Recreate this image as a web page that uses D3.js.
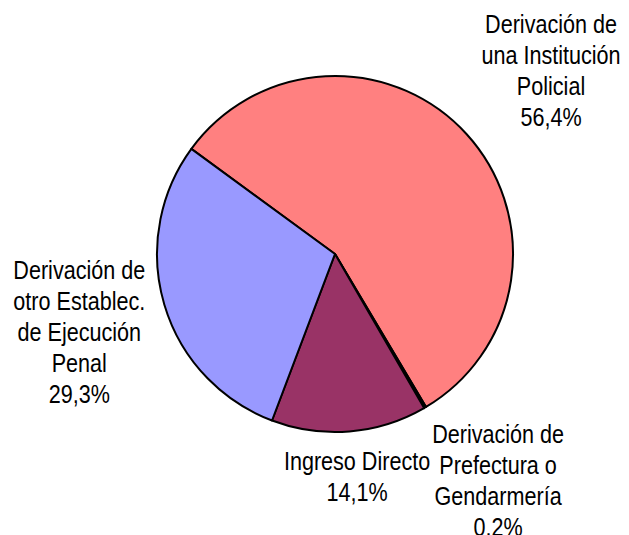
<!DOCTYPE html>
<html>
<head>
<meta charset="utf-8">
<script src="https://cdn.jsdelivr.net/npm/d3@7"></script>
<style>
  body { margin: 0; background: #fff; }
  text { font-family: "Liberation Sans", Arial, sans-serif; font-size: 26px; fill: #000; }
</style>
</head>
<body>
<div class="canvas"></div>
<script>
// data
const categories = [
  ['Derivación de', 'una Institución', 'Policial'],
  ['Derivación de', 'Prefectura o', 'Gendarmería'],
  ['Ingreso Directo'],
  ['Derivación de', 'otro Establec.', 'de Ejecución', 'Penal']
];
const values = [56.4, 0.2, 14.1, 29.3];
const colors = ['#FF8080', '#000000', '#993366', '#9999FF'];

const width = 629;
const height = 535;
const cx = 335;
const cy = 254;
const radius = 178;
const fontSize = 26;
const capHeight = fontSize * 0.716;
const lineHeight = 31;
const labelRadius = radius + 20;
const narrow = 0.83; // squeeze Liberation Sans to look like Arial Narrow

const svg = d3.select('.canvas').append('svg')
  .attr('width', width)
  .attr('height', height);

const graph = svg.append('g')
  .attr('transform', `translate(${cx},${cy})`);

// pie layout, first slice starts up-left
const start = -53.8 * Math.PI / 180;
const pie = d3.pie()
  .sort(null)
  .value(d => d)
  .startAngle(start)
  .endAngle(start + 2 * Math.PI);

const arc = d3.arc().innerRadius(0).outerRadius(radius);
const arcs = pie(values);

graph.selectAll('path')
  .data(arcs)
  .enter()
  .append('path')
    .attr('d', arc)
    .attr('fill', (d, i) => colors[i])
    .attr('stroke', '#000')
    .attr('stroke-width', 2)
    .attr('stroke-linejoin', 'round');

// labels
const fmt = v => d3.format('.1f')(v).replace('.', ',') + '%';

const labels = graph.selectAll('g.label')
  .data(arcs)
  .enter()
  .append('g')
    .attr('class', 'label');

labels.each(function(d, i) {
  const g = d3.select(this);
  const lines = categories[i].concat([fmt(values[i])]);
  d.lineCount = lines.length;
  lines.forEach((t, j) => {
    g.append('text')
      .attr('text-anchor', 'middle')
      .attr('transform', `translate(0,${j * lineHeight}) scale(${narrow},1)`)
      .text(t);
  });
});

// anchor on a ring outside the pie, visible box edge touches the anchor
const boxes = [];
labels.each(function(d) {
  const g = d3.select(this);
  const bb = this.getBBox();
  const top = -capHeight;
  const bottom = (d.lineCount - 1) * lineHeight;
  const hw = bb.width / 2;
  const hh = (bottom - top) / 2;
  const mid = (d.startAngle + d.endAngle) / 2;
  const ux = Math.sin(mid);
  const uy = -Math.cos(mid);
  const m = Math.max(Math.abs(ux), Math.abs(uy));
  const x = ux * labelRadius + hw * ux / m;
  const y = uy * labelRadius + hh * uy / m;
  boxes.push({ g, left: bb.x, top, hw, hh, x, y });
});

// push a later block clockwise when it hits an earlier one
for (let a = 0; a < boxes.length; a++) {
  for (let b = a + 1; b < boxes.length; b++) {
    const A = boxes[a], B = boxes[b];
    const overlapX = Math.abs(A.x - B.x) < A.hw + B.hw;
    const overlapY = Math.abs(A.y - B.y) < A.hh + B.hh;
    if (overlapX && overlapY) {
      A.x = B.x + A.hw + B.hw + 2;
    }
  }
}

boxes.forEach(b => {
  const tx = b.x - (b.left + b.hw);
  const ty = b.y - (b.top + b.hh);
  b.g.attr('transform', `translate(${tx},${ty})`);
});
</script>
</body>
</html>
